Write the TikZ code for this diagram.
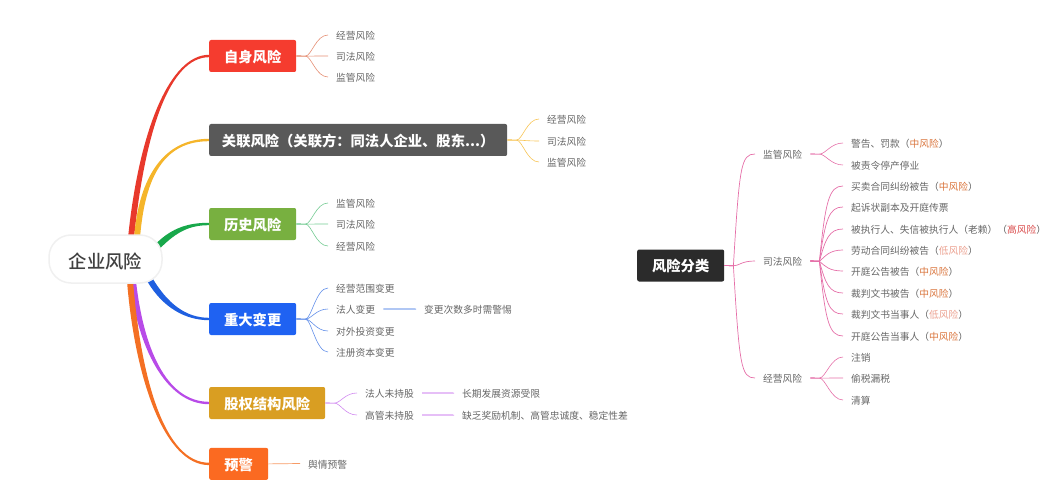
\documentclass[tikz,border=0pt]{standalone}
\usepackage{fontspec}
\setmainfont{Noto Sans CJK SC}
\newfontfamily\mediumfont{Noto Sans CJK SC Medium}
\usetikzlibrary{backgrounds}
\usetikzlibrary{calc}

\definecolor{midrisk}{HTML}{D9733A}
\definecolor{highrisk}{HTML}{D94A4A}
\definecolor{lowrisk}{HTML}{EBA08F}
\definecolor{leafgray}{HTML}{666666}
\definecolor{limbpink}{HTML}{E56FA8}
\definecolor{selfred}{HTML}{F53C2F}
\definecolor{relatedgray}{HTML}{595959}
\definecolor{historygreen}{HTML}{78B040}
\definecolor{changeblue}{HTML}{1F62F2}
\definecolor{equitygold}{HTML}{D99E22}
\definecolor{alertorange}{HTML}{FB6A21}
\definecolor{kindsblack}{HTML}{2B2B2B}
\definecolor{limbred}{HTML}{E8392C}
\definecolor{limbyellow}{HTML}{F5B52A}
\definecolor{limbgreen}{HTML}{18A84B}
\definecolor{limbblue}{HTML}{1F5FE0}
\definecolor{limbpurple}{HTML}{B84BE8}
\definecolor{limborange}{HTML}{F47024}

\newcommand{\limb}[6]{
  \fill[#1] ($(#2)+(#3)$) .. controls ($(#4)+(#3)$) and ($(#5)+(0,-1.2)$) .. ($(#6.west)+(0,-1.2)$)
    -- ($(#6.west)+(0,1.2)$) .. controls ($(#5)+(0,1.2)$) and ($(#4)-(#3)$) .. ($(#2)-(#3)$) -- cycle;
}
\newcommand{\riskmid}{（\textcolor{midrisk}{中风险}）}
\newcommand{\risklow}{（\textcolor{lowrisk}{低风险}）}

\begin{document}
\begin{tikzpicture}[
    x=1pt,y=-1pt,
    rootnode/.style={draw=black!6,line width=1.5pt,fill=white,rounded corners=22pt,minimum width=113pt,minimum height=48pt,inner sep=0pt,text height=19pt,text depth=1pt,text=black!75,font=\fontsize{18.3}{20}\selectfont\mediumfont},
    box/.style={anchor=west,fill=#1,rounded corners=2pt,minimum height=32pt,inner xsep=0pt,inner ysep=0pt,text height=13.5pt,text depth=0.8pt,text=white,font=\fontsize{14.3}{16}\selectfont\bfseries},
    leaf/.style={anchor=west,inner xsep=8pt,inner ysep=2pt,text height=10pt,text depth=0.6pt,text=leafgray,font=\fontsize{9.75}{11}\selectfont},
    stem/.style={line width=0.7pt},
    twig/.style={line width=0.6pt,to path={-- ++(9,0.1) .. controls +(6,0) and +(-12,0) .. (\tikztotarget)}},
    bigtwig/.style={line width=0.7pt,limbpink,to path={-- ++(9,0.3) .. controls +(#1) and +(-14,0) .. (\tikztotarget)}}
  ]
  \useasboundingbox (0,0) rectangle (1060,500);

  \node[rootnode] (root) at (105.5,259) {企业风险};

  \node[box=selfred,minimum width=87pt] (self) at (209,56) {自身风险};
  \node[box=relatedgray,minimum width=298pt] (related) at (209,140) {关联风险（关联方：同法人企业、股东...）};
  \node[box=historygreen,minimum width=87pt] (history) at (209,224) {历史风险};
  \node[box=changeblue,minimum width=87pt] (change) at (209,319) {重大变更};
  \node[box=equitygold,minimum width=116pt] (equity) at (209,403) {股权结构风险};
  \node[box=alertorange,minimum width=59pt] (alert) at (209,463.9) {预警};

  \begin{scope}[on background layer]
    \limb{limbred}{131,238}{-3,0}{142,130}{170,56}{self}
    \limb{limbyellow}{137,238}{-3,0}{142,175}{165,140}{related}
    \limb{limbgreen}{158,246}{-2.2,-2.2}{175,229}{190,224}{history}
    \limb{limbblue}{150,280}{2.2,-2.2}{165,305}{185,319}{change}
    \limb{limbpurple}{133,281}{3,0}{140,345}{165,403}{equity}
    \limb{limborange}{130,281}{3,0}{138,380}{165,464}{alert}
  \end{scope}

  \node[leaf] (self1) at (328,35) {经营风险};
  \node[leaf] (self2) at (328,56) {司法风险};
  \node[leaf] (self3) at (328,77) {监管风险};
  \foreach \i in {1,2,3}
    \draw[twig,selfred!50!brown!70!white] (self.east) to (self\i.west);

  \node[leaf] (related1) at (539,119) {经营风险};
  \node[leaf] (related2) at (539,141) {司法风险};
  \node[leaf] (related3) at (539,162) {监管风险};
  \foreach \i in {1,2,3}
    \draw[twig,limbyellow!80!white] (related.east) to (related\i.west);

  \node[leaf] (history1) at (328,203) {监管风险};
  \node[leaf] (history2) at (328,224) {司法风险};
  \node[leaf] (history3) at (328,246) {经营风险};
  \foreach \i in {1,2,3}
    \draw[twig,limbgreen!60!white] (history.east) to (history\i.west);

  \node[leaf] (change1) at (328,288) {经营范围变更};
  \node[leaf] (change2) at (328,309) {法人变更};
  \node[leaf] (change3) at (328,331) {对外投资变更};
  \node[leaf] (change4) at (328,352) {注册资本变更};
  \node[leaf] (changenote) at (416,309.1) {变更次数多时需警惕};
  \foreach \i in {1,2,3,4}
    \draw[twig,limbblue!70!white] (change.east) to (change\i.west);
  \draw[stem,limbblue] (change2.east) -- (changenote.west);

  \node[leaf] (equity1) at (357,393) {法人未持股};
  \node[leaf] (equity2) at (357,415) {高管未持股};
  \node[leaf] (equitynote1) at (454,393.1) {长期发展资源受限};
  \node[leaf] (equitynote2) at (454,415.1) {缺乏奖励机制、高管忠诚度、稳定性差};
  \foreach \i in {1,2} {
    \draw[twig,limbpurple!65!white] (equity.east) to (equity\i.west);
    \draw[stem,limbpurple] (equity\i.east) -- (equitynote\i.west);
  }

  \node[leaf] (alert1) at (300,463.5) {舆情预警};
  \draw[stem,limborange!70!white] (alert.east) -- (alert1.west);

  \node[box=kindsblack,minimum width=87pt] (kinds) at (637,265.5) {风险分类};

  \node[leaf] (watch) at (755,154) {监管风险};
  \node[leaf] (court) at (755,261) {司法风险};
  \node[leaf] (business) at (755,378) {经营风险};
  \draw[bigtwig={6,-100}] (kinds.east) to (watch.west);
  \draw[bigtwig={6,0}] (kinds.east) to (court.west);
  \draw[bigtwig={6,100}] (kinds.east) to (business.west);

  \node[leaf] (watch1) at (843,143) {警告、罚款\riskmid};
  \node[leaf] (watch2) at (843,165) {被责令停产停业};
  \draw[twig,limbpink] (watch.east) to (watch1.west);
  \draw[twig,limbpink] (watch.east) to (watch2.west);

  \node[leaf] (court1) at (843,186) {买卖合同纠纷被告\riskmid};
  \node[leaf] (court2) at (843,207) {起诉状副本及开庭传票};
  \node[leaf] (court3) at (843,229) {被执行人、失信被执行人（老赖）（\textcolor{highrisk}{高风险}）};
  \node[leaf] (court4) at (843,250) {劳动合同纠纷被告\risklow};
  \node[leaf] (court5) at (843,271) {开庭公告被告\riskmid};
  \node[leaf] (court6) at (843,293) {裁判文书被告\riskmid};
  \node[leaf] (court7) at (843,314) {裁判文书当事人\risklow};
  \node[leaf] (court8) at (843,336) {开庭公告当事人\riskmid};
  \foreach \i/\dy in {1/-60,2/-42,3/-22,4/-5,5/5,6/22,7/42,8/60}
    \draw[bigtwig={6,\dy}] (court.east) to (court\i.west);

  \node[leaf] (business1) at (843,357) {注销};
  \node[leaf] (business2) at (843,378) {偷税漏税};
  \node[leaf] (business3) at (843,400) {清算};
  \foreach \i in {1,2,3}
    \draw[twig,limbpink] (business.east) to (business\i.west);
\end{tikzpicture}
\end{document}
